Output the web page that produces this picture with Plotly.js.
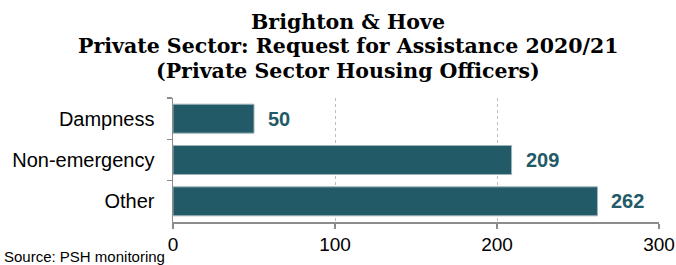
<!DOCTYPE html>
<html><head><meta charset="utf-8">
<script src="https://cdn.plot.ly/plotly-3.0.1.min.js"></script>
<style>html,body{margin:0;padding:0;background:#fff}#c{width:676px;height:265px}</style>
</head><body><div id="c"></div>
<script>
const categories = ["Dampness", "Non-emergency", "Other"];
const values = [50, 209, 262];
const xTicks = [0, 100, 200, 300];
const titleLines = ["Brighton &amp; Hove", "Private Sector: Request for Assistance 2020/21", "(Private Sector Housing Officers)"];
const sourceText = "Source: PSH monitoring";

const barColor = "#235A67";
const sans = "Liberation Sans, Arial, sans-serif";
const trace = {
  type: "bar", orientation: "h",
  x: values, y: categories,
  width: 0.7,
  marker: {color: barColor, line: {color: "#9db3b9", width: 1}},
  hoverinfo: "none"
};
const annotations = values.map((v, i) => ({
  x: v, y: categories[i], xref: "x", yref: "y",
  text: String(v), showarrow: false, xanchor: "left", xshift: 12,
  font: {family: sans, size: 20, color: barColor, weight: "bold"}
}));
const titleShifts = [76, 52, 27];
titleLines.forEach((t, i) => annotations.push({
  xref: "paper", yref: "paper", x: 0.5, y: 1, xanchor: "center", yanchor: "middle",
  xshift: -68, yshift: titleShifts[i],
  text: t, showarrow: false,
  font: {family: "DejaVu Serif, serif", size: 20.5, color: "#000", weight: "bold"}
}));
annotations.push({
  xref: "paper", yref: "paper", x: 0, y: 0, xanchor: "left", yanchor: "bottom",
  text: sourceText, showarrow: false,
  xshift: -171, yshift: -45,
  font: {family: sans, size: 15, color: "#000"}
});
const layout = {
  width: 676, height: 265,
  margin: {l: 173, r: 17, t: 98, b: 43, pad: 0},
  paper_bgcolor: "#fff", plot_bgcolor: "#fff",
  showlegend: false,
  xaxis: {
    range: [0, 300], tickvals: xTicks, ticktext: xTicks.map(String),
    showgrid: true, gridcolor: "#bdbdbd", griddash: "dot", gridwidth: 1,
    zeroline: false, showline: true, linecolor: "#8c8c8c", linewidth: 1.5,
    ticks: "outside", ticklen: 5, tickcolor: "#8c8c8c", tickwidth: 1.5,
    tickfont: {family: sans, size: 19, color: "#000"},
    fixedrange: true
  },
  yaxis: {
    type: "category", autorange: "reversed",
    showline: true, linecolor: "#8c8c8c", linewidth: 1.5,
    ticks: "outside", tickson: "boundaries", ticklen: 5, tickcolor: "#8c8c8c", tickwidth: 1.5,
    showgrid: false, zeroline: false,
    tickfont: {family: sans, size: 20, color: "#000"},
    ticklabelstandoff: 13,
    fixedrange: true
  },
  annotations: annotations
};
Plotly.newPlot("c", [trace], layout, {displayModeBar: false, staticPlot: true});
</script></body></html>
